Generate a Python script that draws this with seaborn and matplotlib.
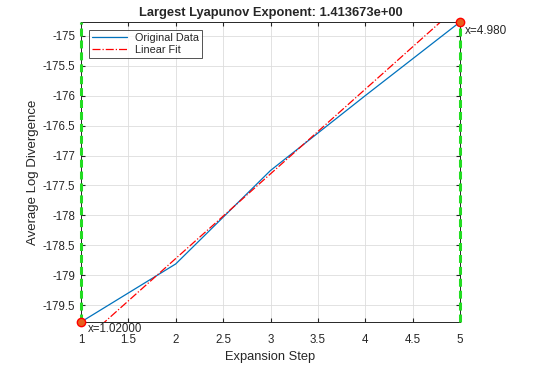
import numpy as np
import pandas as pd
import seaborn as sns
import matplotlib.pyplot as plt

# values
steps = [1, 2, 3, 4, 5]
log_div = [-179.78, -178.81, -177.25, -176.00, -174.77]
slope = 1.413673
intercept = -181.547
left_label = "x=1.02000"
right_label = "x=4.980"

sns.set_style("whitegrid")
plt.rcParams['font.family'] = ['Liberation Sans', 'DejaVu Sans']

df = pd.DataFrame({"step": steps, "div": log_div})
fit_x = np.array([steps[0], steps[-1]])
fit_df = pd.DataFrame({"step": fit_x, "div": slope * fit_x + intercept})

fig = plt.figure(figsize=(5.34, 3.68), dpi=100)
ax = fig.add_axes([81 / 534, 1 - 322 / 368, 379 / 534, 300 / 368])

sns.lineplot(data=df, x="step", y="div", ax=ax, color="#0072BD", linewidth=0.9,
             label="Original Data")
sns.lineplot(data=fit_df, x="step", y="div", ax=ax, color="red", linewidth=0.9,
             linestyle="-.", label="Linear Fit")

# boundary markers
for xv in (steps[0], steps[-1]):
    ax.axvline(xv, color="#22DD22", linestyle=(0, (2.6, 1.3)), linewidth=2.2,
               zorder=6, clip_on=False)
ax.plot([steps[0], steps[-1]], [log_div[0], log_div[-1]], "o", color="#E8601C",
        markeredgecolor="red", markersize=6, zorder=7, clip_on=False)
ax.text(steps[0] + 0.07, log_div[0] - 0.02, left_label, fontsize=8.3, va="top",
        ha="left", color="#262626")
ax.text(steps[-1] + 0.05, log_div[-1] - 0.15, right_label, fontsize=8.5, va="center",
        ha="left", color="#262626")

ax.set_xlim(steps[0], steps[-1])
ax.set_ylim(min(log_div), max(log_div))
ax.set_xticks(np.arange(1, 5.01, 0.5))
ax.set_xticklabels(["1", "1.5", "2", "2.5", "3", "3.5", "4", "4.5", "5"])
yt = np.arange(-179.5, -174.9, 0.5)
ax.set_yticks(yt)
ax.set_yticklabels([f"{v:g}" for v in yt])

ax.grid(True, color="#DDDDDD", linewidth=0.6)
for s in ax.spines.values():
    s.set_color("#262626")
    s.set_linewidth(0.7)
ax.tick_params(labelsize=8.3, colors="#262626", length=3, direction="in",
               top=True, right=True, bottom=True, left=True)
ax.tick_params(axis="x", pad=8.5)
ax.tick_params(axis="y", pad=4)
ax.set_xlabel("Expansion Step", fontsize=9.3, color="#262626", labelpad=4)
ax.set_ylabel("Average Log Divergence", fontsize=9.5, color="#262626", labelpad=3)
ax.set_title("Largest Lyapunov Exponent: 1.413673e+00", fontsize=9.3,
             fontweight="bold", pad=4)

leg = ax.legend(loc="upper left", fontsize=7.8, frameon=True, fancybox=False,
                edgecolor="#262626", borderaxespad=0.7, handlelength=3.2,
                borderpad=0.3, labelspacing=0.2)
leg.get_frame().set_linewidth(0.7)

fig.savefig("out.png", dpi=100)
